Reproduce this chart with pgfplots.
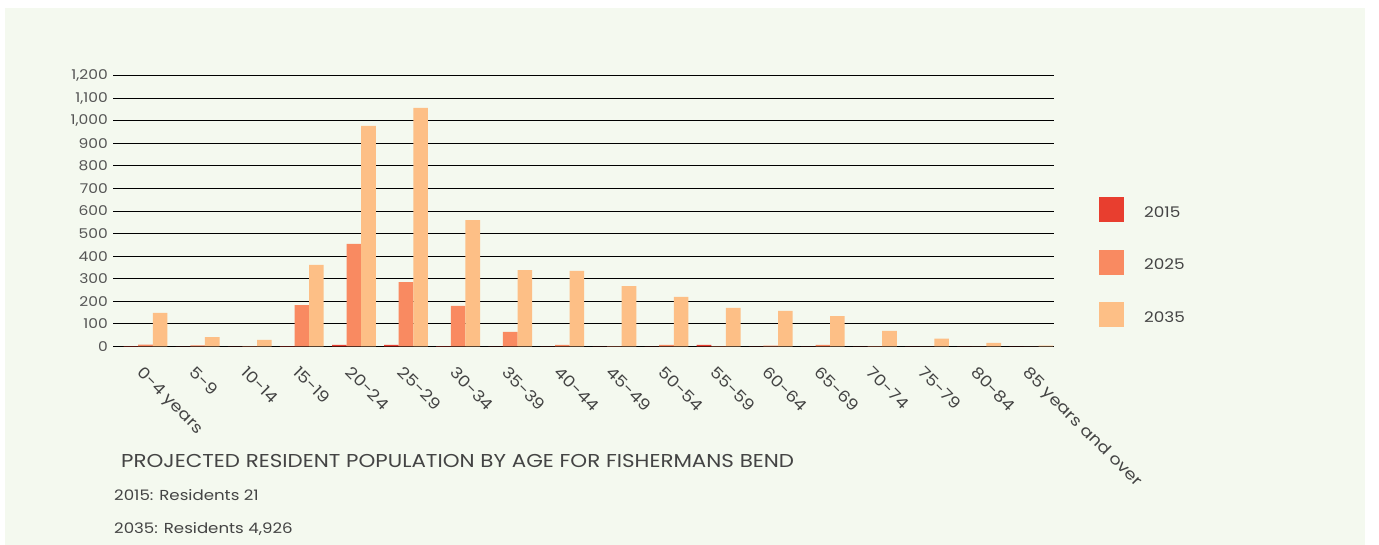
\documentclass[border=0pt]{standalone}
\usepackage{pgfplots}
\pgfplotsset{compat=1.18}
\usepackage{fontspec}
\setmainfont{Poppins}[FakeStretch=1.15]
\definecolor{bg}{HTML}{F4F9EF}
\definecolor{c15}{HTML}{E83E2F}
\definecolor{c25}{HTML}{F98A61}
\definecolor{c35}{HTML}{FDBF86}
\definecolor{txt}{HTML}{444444}
\definecolor{tick}{HTML}{555555}
\pgfplotstableread{
x y15 y25 y35
0 1 7 148
1 0 4 41
2 0 1 28
3 1 183 361
4 6 454 977
5 6 285 1057
6 1 179 560
7 0 64 338
8 0 6 334
9 0 1 267
10 0 6 219
11 6 1 170
12 0 3 157
13 0 6 134
14 0 1 68
15 0 0 34
16 0 0 15
17 0 0 3
}\popdata
\begin{document}
\begin{tikzpicture}[x=1bp,y=1bp]
\fill[white] (0,0) rectangle (1379,545);
\fill[bg] (5,0) rectangle (1365,537);
\begin{axis}[
  at={(113bp,198.7bp)}, anchor=south west,
  width=941bp, height=270.6bp, scale only axis,
  xmin=-0.624, xmax=17.438, ymin=0, ymax=1200,
  ytick={0,100,...,1200},
  xtick={0,...,17},
  xticklabels={0-4 years,5-9,10-14,15-19,20-24,25-29,30-34,35-39,40-44,45-49,50-54,55-59,60-64,65-69,70-74,75-79,80-84,85 years and over},
  axis line style={draw=none},
  major tick length=0pt,
  ymajorgrids, grid style={black, line width=0.9bp},
  /pgf/number format/assume math mode=true,
  /pgf/number format/1000 sep={,},
  yticklabel style={font=\fontsize{13.5}{15}\selectfont, text=tick, anchor=east, inner sep=0pt, xshift=-5bp},
  xticklabel style={font=\fontsize{15.6}{18}\selectfont, text=txt, xshift=-1bp, yshift=-19bp, rotate=-45, anchor=north west, inner sep=0pt},
  legend style={at={(1.0478,0.5517)}, anchor=north west, draw=none, fill=none, inner sep=0pt, row sep=27.5bp, column sep=20bp, font=\fontsize{14.7}{17}\selectfont, text=txt, nodes={inner sep=0pt}},
  legend cell align=left,
  legend image code/.code={\fill[#1] (0bp,-9.8bp) rectangle (25bp,15.2bp);},
  clip=false,
]
\addplot[ybar, bar width=14.6bp, bar shift=-14.6bp, fill=c15, draw=none] table[x=x, y=y15] {\popdata};
\addplot[ybar, bar width=14.6bp, bar shift=0bp, fill=c25, draw=none] table[x=x, y=y25] {\popdata};
\addplot[ybar, bar width=14.6bp, bar shift=14.6bp, fill=c35, draw=none] table[x=x, y=y35] {\popdata};
\legend{2015,2025,2035}
\end{axis}
\node[anchor=base west, inner sep=0pt, text=txt, font=\fontsize{18.7}{21}\selectfont] at (121,77.7) {PROJECTED RESIDENT POPULATION BY AGE FOR FISHERMANS BEND};
\node[anchor=base west, inner sep=0pt, text=txt, font=\fontsize{14.5}{18}\selectfont] at (114,44) {2015: Residents 21};
\node[anchor=base west, inner sep=0pt, text=txt, font=\fontsize{14.5}{18}\selectfont] at (114,11.7) {2035: Residents 4,926};
\end{tikzpicture}
\end{document}
